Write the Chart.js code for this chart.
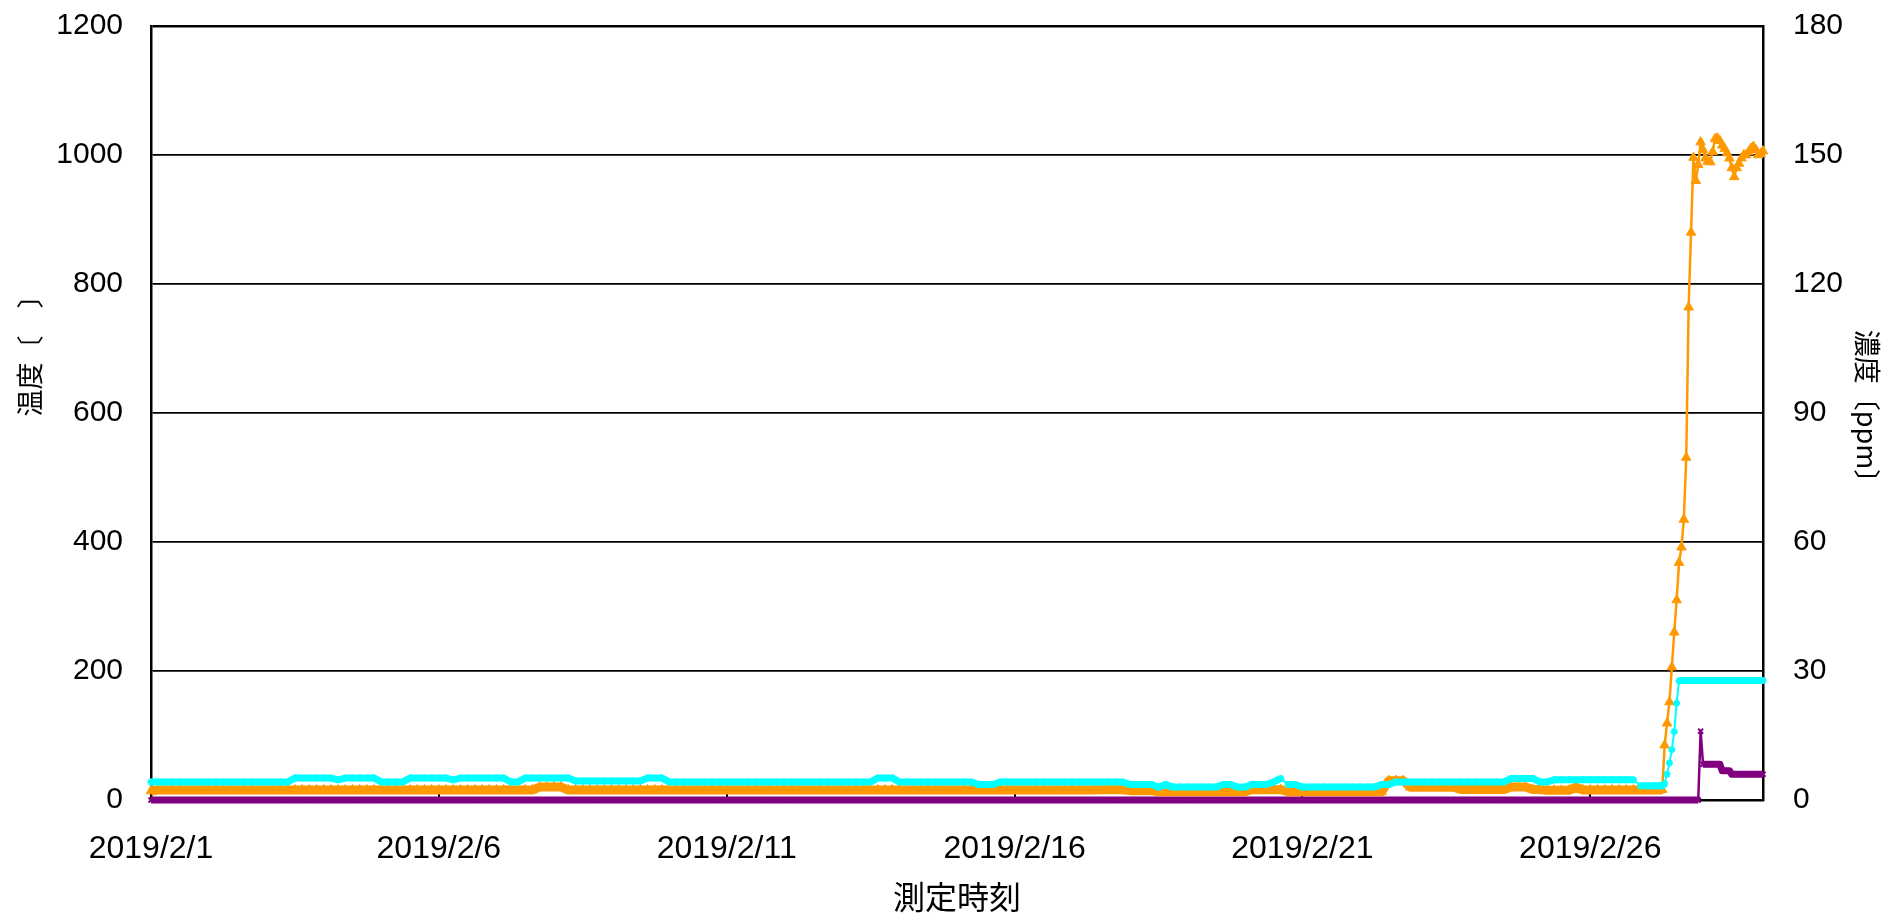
<!DOCTYPE html>
<html lang="ja">
<head>
<meta charset="utf-8">
<title>温度・濃度の推移</title>
<script src="https://cdn.jsdelivr.net/npm/chart.js@4.4.1/dist/chart.umd.min.js"></script>
<style>
  html, body { margin: 0; padding: 0; background: #fff; }
  #wrap { width: 1890px; height: 916px; }
</style>
</head>
<body>
<div id="wrap"><canvas id="chart"></canvas></div>
<script>
// sample times, hours since 2019/2/1 00:00 (3-hourly, hourly from 2/27 04:00)
const sampleHours = [
  0, 3, 6, 9, 12, 15, 18, 21,
  24, 27, 30, 33, 36, 39, 42, 45,
  48, 51, 54, 57, 60, 63, 66, 69,
  72, 75, 78, 81, 84, 87, 90, 93,
  96, 99, 102, 105, 108, 111, 114, 117,
  120, 123, 126, 129, 132, 135, 138, 141,
  144, 147, 150, 153, 156, 159, 162, 165,
  168, 171, 174, 177, 180, 183, 186, 189,
  192, 195, 198, 201, 204, 207, 210, 213,
  216, 219, 222, 225, 228, 231, 234, 237,
  240, 243, 246, 249, 252, 255, 258, 261,
  264, 267, 270, 273, 276, 279, 282, 285,
  288, 291, 294, 297, 300, 303, 306, 309,
  312, 315, 318, 321, 324, 327, 330, 333,
  336, 339, 342, 345, 348, 351, 354, 357,
  360, 363, 366, 369, 372, 375, 378, 381,
  384, 387, 390, 393, 396, 399, 402, 405,
  408, 411, 414, 417, 420, 423, 426, 429,
  432, 435, 438, 441, 444, 447, 450, 453,
  456, 459, 462, 465, 468, 471, 474, 477,
  480, 483, 486, 489, 492, 495, 498, 501,
  504, 507, 510, 513, 516, 519, 522, 525,
  528, 531, 534, 537, 540, 543, 546, 549,
  552, 555, 558, 561, 564, 567, 570, 573,
  576, 579, 582, 585, 588, 591, 594, 597,
  600, 603, 606, 609, 612, 615, 618, 621,
  624, 627, 628, 629, 630, 631, 632, 633, 634, 635, 636, 637,
  638, 639, 640, 641, 642, 643, 644, 645, 646, 647, 648, 649,
  650, 651, 652, 653, 654, 655, 656, 657, 658, 659, 660, 661,
  662, 663, 664, 665, 666, 667, 668, 669, 670, 671, 672
];

// temperature, ℃ (orange, left axis)
const temperature = [
  14, 15.5, 15.5, 15.5, 15.5, 15.5, 15.5, 15.5,
  15.5, 15.5, 15.5, 15.5, 15.5, 15.5, 15.5, 15.5,
  15.5, 15.5, 15.5, 15.5, 15.5, 15.5, 15.5, 15.5,
  15.5, 15.5, 15.5, 15.5, 15.5, 15.5, 15.5, 15.5,
  15.5, 15.5, 15.5, 15.5, 15.5, 15.5, 15.5, 15.5,
  15.5, 15.5, 15.5, 15.5, 15.5, 15.5, 15.5, 15.5,
  15.5, 15.5, 15.5, 15.5, 15.5, 15.5, 20, 20,
  20, 20, 15.5, 15.5, 15.5, 15.5, 15.5, 15.5,
  15.5, 15.5, 15.5, 15.5, 15.5, 15.5, 15.5, 15.5,
  15.5, 15.5, 15.5, 15.5, 15.5, 15.5, 15.5, 15.5,
  15.5, 15.5, 15.5, 15.5, 15.5, 15.5, 15.5, 15.5,
  15.5, 15.5, 15.5, 15.5, 15.5, 15.5, 15.5, 15.5,
  15.5, 15.5, 15.5, 15.5, 15.5, 15.5, 15.5, 15.5,
  15.5, 15.5, 15.5, 15.5, 15.5, 15.5, 15.5, 15.5,
  15.5, 15.5, 15.5, 15.5, 15.5, 15.5, 15.5, 15.5,
  15.5, 15.5, 15.5, 15.5, 15.5, 15.5, 15.5, 15.5,
  15.5, 15.5, 15.5, 15.5, 16, 16, 16, 16,
  14.5, 14.5, 14.5, 14.5, 12.7, 12.7, 12.7, 12.7,
  12.7, 12.7, 12.7, 12.7, 12.7, 12.7, 12.7, 12.7,
  12.7, 16, 16, 16, 16, 16, 12.7, 12.7,
  12.7, 12.7, 12.7, 12.7, 12.7, 12.7, 12.7, 12.7,
  12.7, 12.7, 12.7, 12.7, 30, 30, 30, 19.7,
  19.7, 19.7, 19.7, 19.7, 19.7, 19.7, 16.3, 16.3,
  16.3, 16.3, 16.3, 16.3, 16.3, 20, 20, 20,
  16.3, 16.3, 15, 15, 15, 15, 20, 15.5,
  15.5, 15.5, 15.5, 15.5, 15.5, 15.5, 15.5, 15.5,
  15.5, 15.5, 15.5, 15.5, 16, 85, 119, 152, 206, 260, 310, 368,
  392, 435, 531, 764, 880, 996, 960, 985, 1020, 1008, 995, 990,
  989, 1005, 1025, 1026, 1022, 1015, 1010, 1003, 995, 980, 966, 980,
  987, 995, 1000, 1000, 1005, 1010, 1013, 1008, 1000, 1002, 1006
];

// concentration A, ppm (cyan, right axis)
const concA = [
  4.2, 4.2, 4.2, 4.2, 4.2, 4.2, 4.2, 4.2,
  4.2, 4.2, 4.2, 4.2, 4.2, 4.2, 4.2, 4.2,
  4.2, 4.2, 4.2, 4.2, 5.1, 5.1, 5.1, 5.1,
  5.1, 5.1, 4.7, 5.1, 5.1, 5.1, 5.1, 5.1,
  4.2, 4.2, 4.2, 4.2, 5.1, 5.1, 5.1, 5.1,
  5.1, 5.1, 4.7, 5.1, 5.1, 5.1, 5.1, 5.1,
  5.1, 5.1, 4.2, 4.2, 5.1, 5.1, 5.1, 5.1,
  5.1, 5.1, 5.1, 4.4, 4.4, 4.4, 4.4, 4.4,
  4.4, 4.4, 4.4, 4.4, 4.4, 5.1, 5.1, 5.1,
  4.2, 4.2, 4.2, 4.2, 4.2, 4.2, 4.2, 4.2,
  4.2, 4.2, 4.2, 4.2, 4.2, 4.2, 4.2, 4.2,
  4.2, 4.2, 4.2, 4.2, 4.2, 4.2, 4.2, 4.2,
  4.2, 4.2, 4.2, 4.2, 4.2, 5.1, 5.1, 5.1,
  4.2, 4.2, 4.2, 4.2, 4.2, 4.2, 4.2, 4.2,
  4.2, 4.2, 4.2, 3.6, 3.6, 3.6, 4.2, 4.2,
  4.2, 4.2, 4.2, 4.2, 4.2, 4.2, 4.2, 4.2,
  4.2, 4.2, 4.2, 4.2, 4.2, 4.2, 4.2, 4.2,
  3.6, 3.6, 3.6, 3.6, 3.0, 3.6, 3.0, 3.0,
  3.0, 3.0, 3.0, 3.0, 3.0, 3.6, 3.6, 3.0,
  3.0, 3.6, 3.6, 3.6, 4.2, 5.0, 3.6, 3.6,
  3.0, 3.0, 3.0, 3.0, 3.0, 3.0, 3.0, 3.0,
  3.0, 3.0, 3.0, 3.6, 3.6, 4.2, 4.2, 4.2,
  4.2, 4.2, 4.2, 4.2, 4.2, 4.2, 4.2, 4.2,
  4.2, 4.2, 4.2, 4.2, 4.2, 5.0, 5.0, 5.0,
  5.0, 4.2, 4.2, 4.7, 4.7, 4.7, 4.7, 4.7,
  4.7, 4.7, 4.7, 4.7, 4.7, 4.7, 4.7, 3.3,
  3.3, 3.3, 3.3, 3.3, 3.3, 3.8, 6.0, 8.6, 11.7, 15.9, 22.5, 27.7,
  27.8, 27.8, 27.8, 27.8, 27.8, 27.8, 27.8, 27.8, 27.8, 27.8, 27.8, 27.8,
  27.8, 27.8, 27.8, 27.8, 27.8, 27.8, 27.8, 27.8, 27.8, 27.8, 27.8, 27.8,
  27.8, 27.8, 27.8, 27.8, 27.8, 27.8, 27.8, 27.8, 27.8, 27.8, 27.8
];

// concentration B, ppm (purple, right axis)
const concB = [
  0, 0, 0, 0, 0, 0, 0, 0,
  0, 0, 0, 0, 0, 0, 0, 0,
  0, 0, 0, 0, 0, 0, 0, 0,
  0, 0, 0, 0, 0, 0, 0, 0,
  0, 0, 0, 0, 0, 0, 0, 0,
  0, 0, 0, 0, 0, 0, 0, 0,
  0, 0, 0, 0, 0, 0, 0, 0,
  0, 0, 0, 0, 0, 0, 0, 0,
  0, 0, 0, 0, 0, 0, 0, 0,
  0, 0, 0, 0, 0, 0, 0, 0,
  0, 0, 0, 0, 0, 0, 0, 0,
  0, 0, 0, 0, 0, 0, 0, 0,
  0, 0, 0, 0, 0, 0, 0, 0,
  0, 0, 0, 0, 0, 0, 0, 0,
  0, 0, 0, 0, 0, 0, 0, 0,
  0, 0, 0, 0, 0, 0, 0, 0,
  0, 0, 0, 0, 0, 0, 0, 0,
  0, 0, 0, 0, 0, 0, 0, 0,
  0, 0, 0, 0, 0, 0, 0, 0,
  0, 0, 0, 0, 0, 0, 0, 0,
  0, 0, 0, 0, 0, 0, 0, 0,
  0, 0, 0, 0, 0, 0, 0, 0,
  0, 0, 0, 0, 0, 0, 0, 0,
  0, 0, 0, 0, 0, 0, 0, 0,
  0, 0, 0, 0, 0, 0, 0, 0,
  0, 0, 0, 0, 0, 0, 0, 0,
  0, 0, 0, 0, 0, 0, 0, 0, 0, 0, 0, 0,
  0, 0, 0, 0, 0, 0, 0, 0, 16.0, 8.3, 8.3, 8.3,
  8.3, 8.3, 8.3, 8.3, 8.3, 6.8, 6.8, 6.8, 6.8, 6.0, 6.0, 6.0,
  6.0, 6.0, 6.0, 6.0, 6.0, 6.0, 6.0, 6.0, 6.0, 6.0, 6.0
];

// x axis ticks
const tickHours = [0, 120, 240, 360, 480, 600];
const dateLabels = ['2019/2/1', '2019/2/6', '2019/2/11', '2019/2/16', '2019/2/21', '2019/2/26'];

const ORANGE = '#ff9900';
const CYAN = '#00ffff';
const PURPLE = '#800080';
const NUM_FONT = '"Liberation Sans", Arial, sans-serif';
const CJK_FONT = '"Noto Sans CJK JP", sans-serif';

// left axis title is drawn by hand so it can sit a bit above the middle like the original
const leftTitle = {
  id: 'leftTitle',
  afterDraw(chart) {
    const { ctx, chartArea } = chart;
    ctx.save();
    ctx.translate(30, chartArea.top + 323);
    ctx.rotate(-Math.PI / 2);
    ctx.font = '27px ' + CJK_FONT;
    ctx.fillStyle = '#000';
    ctx.textAlign = 'center';
    ctx.textBaseline = 'middle';
    ctx.fillText('温度〔　〕', 0, 0);
    ctx.restore();
  }
};

const tickFont = { family: NUM_FONT, size: 30 };

// fixed axis boxes so the plot area lands where the original one is
const fitY = (w) => (axis) => {
  axis.width = w;
  axis.paddingTop = 0;
  axis.paddingBottom = 0;
};

new Chart(document.getElementById('chart'), {
  type: 'line',
  data: {
    labels: sampleHours,
    datasets: [
      {
        label: '濃度A',
        data: concA,
        yAxisID: 'y1',
        borderColor: CYAN,
        pointStyle: 'star',
        pointRadius: 3.5,
        pointBorderWidth: 2,
        pointBorderColor: CYAN,
        pointBackgroundColor: CYAN,
        borderJoinStyle: 'round',
        clip: false,
        segment: {
          borderWidth: (c) => (Math.abs(c.p1.parsed.y - c.p0.parsed.y) < 1 ? 7 : 2)
        }
      },
      {
        label: '温度',
        data: temperature,
        yAxisID: 'y',
        borderColor: ORANGE,
        pointStyle: 'triangle',
        pointRadius: 5.5,
        pointBorderWidth: 1,
        pointBorderColor: ORANGE,
        pointBackgroundColor: ORANGE,
        borderJoinStyle: 'round',
        clip: false,
        segment: {
          borderWidth: (c) => (c.p0.parsed.y < 60 && c.p1.parsed.y < 60 ? 9 : 2.5)
        }
      },
      {
        label: '濃度B',
        data: concB,
        yAxisID: 'y1',
        borderColor: PURPLE,
        pointStyle: 'crossRot',
        pointRadius: 3.5,
        pointBorderWidth: 2,
        pointBorderColor: PURPLE,
        pointBackgroundColor: PURPLE,
        borderJoinStyle: 'round',
        clip: false,
        segment: {
          borderWidth: (c) => (Math.abs(c.p1.parsed.y - c.p0.parsed.y) < 2 ? 7 : 2.5)
        }
      }
    ]
  },
  options: {
    responsive: true,
    maintainAspectRatio: false,
    animation: false,
    events: [],
    layout: { padding: { top: 26, left: 0, right: 0, bottom: 0 } },
    plugins: {
      legend: { display: false },
      tooltip: { enabled: false }
    },
    scales: {
      x: {
        type: 'linear',
        min: 0,
        max: 672,
        afterBuildTicks: (axis) => { axis.ticks = tickHours.map((value) => ({ value })); },
        afterFit: (axis) => { axis.height = 116; },
        ticks: {
          callback: (value, i) => dateLabels[i],
          autoSkip: false,
          maxRotation: 0,
          padding: 36,
          color: '#000',
          font: { family: NUM_FONT, size: 32 }
        },
        grid: { drawOnChartArea: false, drawTicks: true, tickLength: -6, color: '#000', lineWidth: 2 },
        border: { color: '#000', width: 2.5 },
        title: {
          display: true,
          text: '測定時刻',
          color: '#000',
          font: { family: CJK_FONT, size: 32 },
          padding: { top: 0, bottom: 0 }
        }
      },
      y: {
        position: 'left',
        min: 0,
        max: 1200,
        afterFit: fitY(151),
        ticks: { stepSize: 200, padding: 28, color: '#000', font: tickFont, callback: (v) => String(v) },
        grid: {
          drawTicks: false,
          color: '#000',
          lineWidth: (c) => (c.tick && c.tick.value === 1200 ? 2.5 : 1.8)
        },
        border: { color: '#000', width: 2.5 }
      },
      y1: {
        position: 'right',
        min: 0,
        max: 180,
        afterFit: fitY(127),
        ticks: { stepSize: 30, padding: 30, color: '#000', font: tickFont, callback: (v) => String(v) },
        grid: { drawOnChartArea: false, drawTicks: false },
        border: { color: '#000', width: 2.5 },
        title: {
          display: true,
          text: '濃度〔ppm〕',
          color: '#000',
          font: { family: CJK_FONT, size: 27 },
          padding: { top: 7, bottom: 0 }
        }
      }
    }
  },
  plugins: [leftTitle]
});
</script>
</body>
</html>
